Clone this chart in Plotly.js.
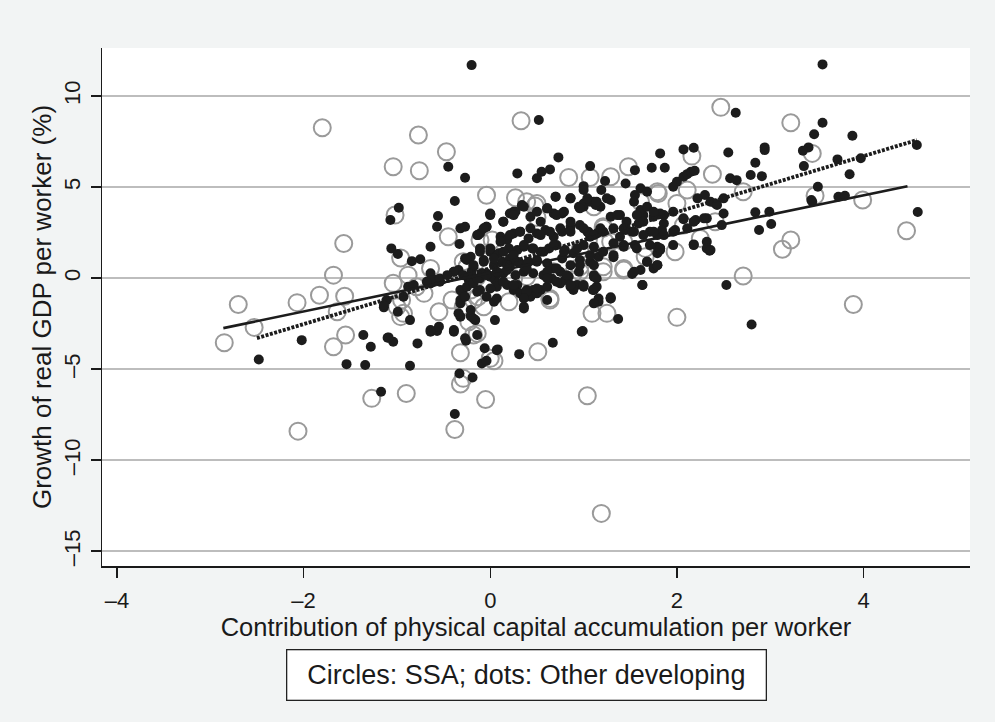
<!DOCTYPE html>
<html>
<head>
<meta charset="utf-8">
<script src="https://cdn.plot.ly/plotly-3.0.1.min.js"></script>
<style>html,body{margin:0;padding:0;background:#f2f4f4;}#chart{width:995px;height:722px;}</style>
</head>
<body>
<div id="chart"></div>
<script>
// Other developing countries (dots)
const otherX = [
-0.98,-1.07,-1.06,-0.99,-2.48,-2.02,-1.36,-1.28,-1.54,-1.34,-1.10,-1.04,-1.14,-0.99,-1.17,
0.52,-0.45,-0.27,0.29,0.50,0.55,0.64,0.73,1.07,1.00,-0.38,-0.56,-0.57,-0.32,-0.27,-0.33,-0.84,-0.75,-0.64,-0.64,0.00,-0.13,-0.04,0.70,0.86,0.34,0.25,
-0.20,
3.56,2.63,3.56,3.47,3.88,4.57,3.41,3.35,2.94,2.94,2.55,2.84,3.36,3.72,3.97,3.85,3.51,3.44,3.73,3.80,4.58,2.84,2.99,3.01,2.88,2.53,2.91,2.79,2.57,2.64,2.18,2.07,1.82,1.73,1.87,1.55,1.45,1.23,1.19,1.61,1.68,1.55,2.00,2.07,2.11,2.15,2.19,1.96,2.30,2.22,2.41,2.50,2.32,2.20,2.07,2.48,1.98,2.18,2.32,2.35,1.82,1.79,1.68,1.75,1.61,1.52,1.63,1.32,1.11,1.11,1.29,1.16,
1.39,1.29,1.45,1.52,1.59,1.64,1.71,1.82,1.86,1.79,1.55,1.43,1.32,1.04,1.07,1.18,1.11,1.29,1.00,1.18,1.61,1.75,1.84,1.39,1.68,1.54,
2.80,1.37,1.16,1.29,1.10,0.99,1.79,1.82,1.79,3.45,
-1.09,-0.78,-0.86,-0.64,-0.57,-0.39,-0.26,-0.14,-0.06,0.08,-0.09,-0.04,-0.33,-0.19,-0.38,0.31,0.67,0.98,
-0.64,-0.55,-0.39,-0.27,-0.32,-0.21,-0.16,-0.34,0.05,0.07,0.36,0.04,-0.30,-0.32,-1.11,-1.14,-0.93,-0.86,-0.64,-0.59,-0.54,-0.88,-0.39,-0.34,-0.27,-0.21,-0.23,-0.11,-0.04,0.05,0.14,0.21,0.29,0.39,0.46,0.54,0.36,0.61,0.86,0.93,1.11,0.80,
-0.11,-0.04,0.00,0.14,0.21,0.27,0.34,0.43,0.54,0.61,0.68,0.77,0.86,0.95,1.00,1.07,1.13,0.70,1.00,
0.11,0.18,0.25,0.32,0.41,0.50,0.59,0.68,0.77,0.86,0.96,1.05,1.14,
-0.11,0.00,0.09,0.20,0.29,0.36,0.45,0.54,0.63,0.71,0.80,0.89,1.00,1.11,
-0.25,-0.18,-0.07,0.04,0.13,0.21,0.32,0.41,0.50,0.61,0.68,0.77,0.86,0.96,1.07,1.16,
-0.39,-0.29,-0.20,-0.09,0.00,0.09,0.18,0.27,0.36,0.46,0.57,0.66,0.75,0.84,0.95,1.11,
-0.32,-0.25,-0.18,0.07,0.18,0.25,0.32,0.43,0.50,0.61,0.75,0.89,1.00,1.14,
-0.61,-0.54,-0.46,-0.68,-0.82,
-0.32,-0.27,-0.21,-0.18,-0.11,-0.04,0.36,
-0.14,-0.07,0.00,0.14,0.25,0.36,0.50,0.61,0.71,0.79,0.86,0.96,1.04,1.14,1.25,1.36,1.46,1.57,1.64,1.75,1.86,1.96,2.07,2.18,2.29,2.36,2.43,2.50,
-0.11,0.00,0.11,0.21,0.32,0.43,0.54,0.64,0.75,0.86,1.00,1.11,1.21,1.32,1.43,1.54,1.64,1.75,1.86,1.96,2.11,
-0.18,-0.07,0.04,0.14,0.25,0.36,0.46,0.57,0.68,0.79,0.93,1.07,1.21,1.43,1.57,1.71,1.82,1.96,2.18,2.32,
-0.14,-0.04,0.07,0.18,0.29,0.39,0.50,0.61,0.71,0.82,0.96,1.11,1.32,1.54,1.68,1.79,
-0.14,0.00,0.14,0.25,0.39,0.50,0.61,0.71,0.86,1.00,1.14,
0.07,0.36,1.11,1.29,1.63,2.36
];
const otherY = [
3.86,3.19,1.63,1.32,-4.47,-3.41,-3.13,-3.77,-4.73,-4.78,-3.28,-3.50,-1.61,-1.85,-6.25,
8.68,6.12,5.51,5.75,5.48,5.84,5.97,6.63,6.15,5.05,4.23,3.41,2.82,2.73,2.82,1.87,0.93,1.03,1.72,0.26,3.50,2.36,2.82,4.47,4.38,3.96,3.64,
11.70,
11.74,9.08,8.53,7.90,7.82,7.31,7.18,7.00,7.18,7.03,6.90,6.34,6.15,6.52,6.58,5.70,5.02,4.29,4.47,4.52,3.63,3.61,3.64,2.97,2.64,-0.38,5.60,5.66,5.48,5.38,7.16,7.07,6.85,6.06,6.06,5.93,5.20,5.33,4.84,4.93,4.74,4.56,5.29,5.57,5.71,5.84,5.90,5.02,4.56,4.38,4.10,3.55,3.28,3.19,3.23,2.91,2.64,1.85,1.99,1.50,1.63,1.36,0.90,0.53,0.44,0.22,-0.38,1.14,0.07,-0.62,-1.06,-1.12,
3.46,3.37,2.64,2.54,3.00,3.46,2.54,3.55,3.00,2.36,1.81,1.72,1.91,2.54,2.27,2.73,4.19,4.29,3.92,3.92,3.74,3.37,2.64,2.27,3.92,4.19,
-2.55,-2.25,-1.30,-1.12,-0.66,-2.91,0.71,1.54,1.72,4.19,
-3.26,-3.59,-4.82,-2.95,-2.91,-2.95,-3.44,-3.13,-3.86,-3.92,-4.69,-4.54,-5.24,-5.46,-7.47,-4.18,-3.55,-2.95,
-2.86,-2.67,-2.86,-3.31,-2.12,-2.09,-2.31,-1.94,-2.31,-3.96,-1.67,-1.30,-0.75,-1.21,-1.21,-1.48,-1.03,-2.31,-0.29,-0.11,-0.20,-0.48,0.35,0.44,1.08,1.17,-0.11,-0.02,0.26,-0.11,0.26,0.62,-0.38,-0.66,-0.66,-0.66,-1.03,-0.48,-0.48,-0.38,-1.39,-0.11,
2.45,2.82,3.55,3.10,3.55,3.64,4.01,3.37,3.10,3.83,3.55,3.55,4.38,3.92,4.10,4.19,4.01,4.47,4.84,
2.27,2.09,2.45,2.55,2.18,2.45,2.64,2.27,2.55,2.82,2.91,2.55,2.45,
1.63,1.45,1.36,1.63,1.54,1.72,1.63,1.45,1.63,1.81,1.54,1.36,1.81,1.72,
0.99,0.62,0.99,0.71,0.90,1.08,0.81,0.90,0.99,0.81,0.53,1.08,0.71,0.99,0.90,1.17,
0.35,0.16,0.35,0.26,0.07,0.26,0.44,0.16,0.35,0.26,0.16,-0.02,0.35,0.07,0.35,0.16,
-0.66,-0.48,-0.29,-0.48,-0.38,-0.66,-0.84,-1.03,-0.84,-1.21,-0.29,-0.66,-0.48,-0.48,
-0.11,-0.02,0.16,-0.20,-0.38,
-1.39,-1.03,-1.76,-2.22,-0.66,-1.03,-1.58,
2.36,2.73,3.46,3.10,3.46,3.92,3.64,3.83,3.46,3.64,3.10,3.83,4.38,4.19,4.38,3.46,3.10,3.46,3.10,3.64,3.46,3.64,3.28,3.10,3.28,4.19,4.01,4.38,
1.45,1.63,2.00,2.36,2.55,2.73,2.36,2.55,2.73,2.55,2.73,2.36,2.55,2.73,2.73,2.55,2.36,2.55,2.36,2.55,2.73,
0.71,0.90,1.08,1.45,1.26,1.81,1.63,1.45,1.81,1.45,1.63,1.26,1.45,1.81,1.63,1.81,1.63,1.81,1.81,1.63,
-0.02,0.16,0.35,0.71,0.90,0.53,0.90,0.35,0.53,0.16,0.71,0.71,1.26,0.35,0.90,0.71,
-0.75,-0.57,-0.20,-0.38,-0.75,-0.57,-0.02,-0.20,-0.38,-0.38,-0.02,
-1.12,-1.12,-0.66,-1.12,-0.38,1.54
];

// Sub-Saharan Africa (circles)
const ssaX = [
-1.80,-1.04,-1.02,-1.57,-0.96,-1.68,-1.04,-2.70,-2.07,-1.83,-1.56,-2.53,-2.85,-1.64,-1.55,-1.68,-1.00,-0.96,-1.27,-0.90,-2.06,
0.33,-0.77,-0.47,-0.76,0.84,1.07,-0.04,0.27,-0.45,0.48,
2.47,3.22,3.45,3.48,3.99,4.46,3.22,3.13,2.71,3.89,2.38,2.16,1.48,1.29,1.80,2.11,2.00,2.41,2.07,1.98,2.25,1.66,1.43,1.21,1.11,1.21,1.23,1.43,1.66,1.61,2.71,
2.00,1.04,1.25,1.09,1.19,
-0.32,-0.18,0.04,-0.29,-0.32,-0.05,-0.38,0.51,
-0.64,-0.88,-0.79,-0.95,-0.93,-0.71,-0.55,-0.41,-0.29,-0.23,-0.18,-0.13,-0.07,0.00,0.64,0.20,-0.14,-0.29,0.00,0.02,0.50,0.96,0.39,-0.14,-0.21,0.68,0.89,
0.50,0.96,-0.11,-0.25,
1.79,1.21,1.04,1.29,0.96,1.21,1.43,0.64,0.25,0.39
];
const ssaY = [
8.26,6.12,3.46,1.90,1.10,0.16,-0.29,-1.45,-1.35,-0.94,-1.00,-2.71,-3.55,-1.85,-3.13,-3.77,-1.58,-2.12,-6.61,-6.34,-8.41,
8.64,7.86,6.94,5.90,5.53,5.53,4.55,4.41,2.27,3.96,
9.38,8.53,6.85,4.52,4.29,2.60,2.09,1.58,0.11,-1.45,5.70,6.70,6.12,5.57,4.65,4.84,4.10,3.09,2.91,1.45,2.18,1.17,0.44,0.62,3.92,2.82,1.99,1.99,1.63,4.19,4.74,
-2.16,-6.47,-1.94,-1.94,-12.93,
-4.10,-3.13,-4.54,-5.51,-5.82,-6.67,-8.32,-4.05,
0.53,0.16,-0.48,-1.21,-1.94,-0.84,-1.85,-1.21,-1.58,-2.40,-1.21,-1.03,-1.58,-4.41,-1.21,-1.30,-3.04,0.90,0.44,2.09,4.10,0.62,0.07,0.07,-0.66,0.35,0.26,
3.33,1.54,2.09,0.62,
4.74,2.73,1.26,2.00,0.35,0.35,0.53,-1.12,-0.02,4.19
];

// Fitted lines (end points)
const fitSsaX = [-2.86, 4.47];
const fitSsaY = [-2.75, 5.05];
const fitOtherX = [-2.50, 4.57];
const fitOtherY = [-3.30, 7.58];

const xTicks = [-4, -2, 0, 2, 4];
const yTicks = [-15, -10, -5, 0, 5, 10];

const xTitle = 'Contribution of physical capital accumulation per worker';
const yTitle = 'Growth of real GDP per worker (%)';
const noteText = 'Circles: SSA; dots: Other developing';

const FONT = 'Liberation Sans, Arial, Helvetica, sans-serif';
const INK = '#1a1a1a';

const traces = [
  {x: ssaX, y: ssaY, type: 'scatter', mode: 'markers',
   marker: {symbol: 'circle-open', size: 17, color: '#9a9a9a', line: {width: 2, color: '#9a9a9a'}},
   hoverinfo: 'skip'},
  {x: otherX, y: otherY, type: 'scatter', mode: 'markers',
   marker: {symbol: 'circle', size: 10, color: '#1c1c1c', line: {width: 0}},
   hoverinfo: 'skip'},
  {x: fitOtherX, y: fitOtherY, type: 'scatter', mode: 'lines',
   line: {color: '#1c1c1c', width: 3.8, dash: '3px,1.5px'}, hoverinfo: 'skip'},
  {x: fitSsaX, y: fitSsaY, type: 'scatter', mode: 'lines',
   line: {color: '#1c1c1c', width: 2.6}, hoverinfo: 'skip'}
];

const layout = {
  width: 995, height: 722,
  margin: {l: 102, r: 25, t: 48, b: 156, pad: 0},
  paper_bgcolor: '#f2f4f4',
  plot_bgcolor: '#ffffff',
  showlegend: false,
  font: {family: FONT, color: INK},
  xaxis: {
    range: [-4.16, 5.14], tickvals: xTicks, ticktext: xTicks.map(v => v < 0 ? '\u2013' + Math.abs(v) : String(v)),
    ticks: 'outside', ticklen: 10, tickwidth: 1.3, tickcolor: INK,
    showline: true, linecolor: INK, linewidth: 1.5,
    showgrid: false, zeroline: false,
    tickfont: {family: FONT, size: 22, color: INK},
    ticklabelstandoff: 4,
    title: {text: xTitle, font: {family: FONT, size: 25.5, color: INK}, standoff: 3},
    automargin: false
  },
  yaxis: {
    range: [-15.82, 12.64], tickvals: yTicks, ticktext: yTicks.map(v => v < 0 ? '\u2013' + Math.abs(v) : String(v)),
    tickangle: -90,
    ticks: 'outside', ticklen: 10, tickwidth: 1.3, tickcolor: INK,
    showline: true, linecolor: INK, linewidth: 1.5,
    showgrid: true, gridcolor: '#bdbdbd', gridwidth: 2, zeroline: false,
    tickfont: {family: FONT, size: 22, color: INK},
    ticklabelstandoff: 2,
    title: {text: yTitle, font: {family: FONT, size: 26, color: INK}, standoff: 0},
    automargin: false
  },
  annotations: [{
    text: noteText, xref: 'paper', yref: 'paper', x: 0.4896, y: -0.2095,
    xanchor: 'center', yanchor: 'middle', showarrow: false,
    font: {family: FONT, size: 27, color: INK},
    bgcolor: '#ffffff', bordercolor: '#222222', borderwidth: 1.3, borderpad: 0,
    width: 478, height: 49
  }]
};

Plotly.newPlot('chart', traces, layout, {displayModeBar: false, staticPlot: true});
</script>
</body>
</html>
